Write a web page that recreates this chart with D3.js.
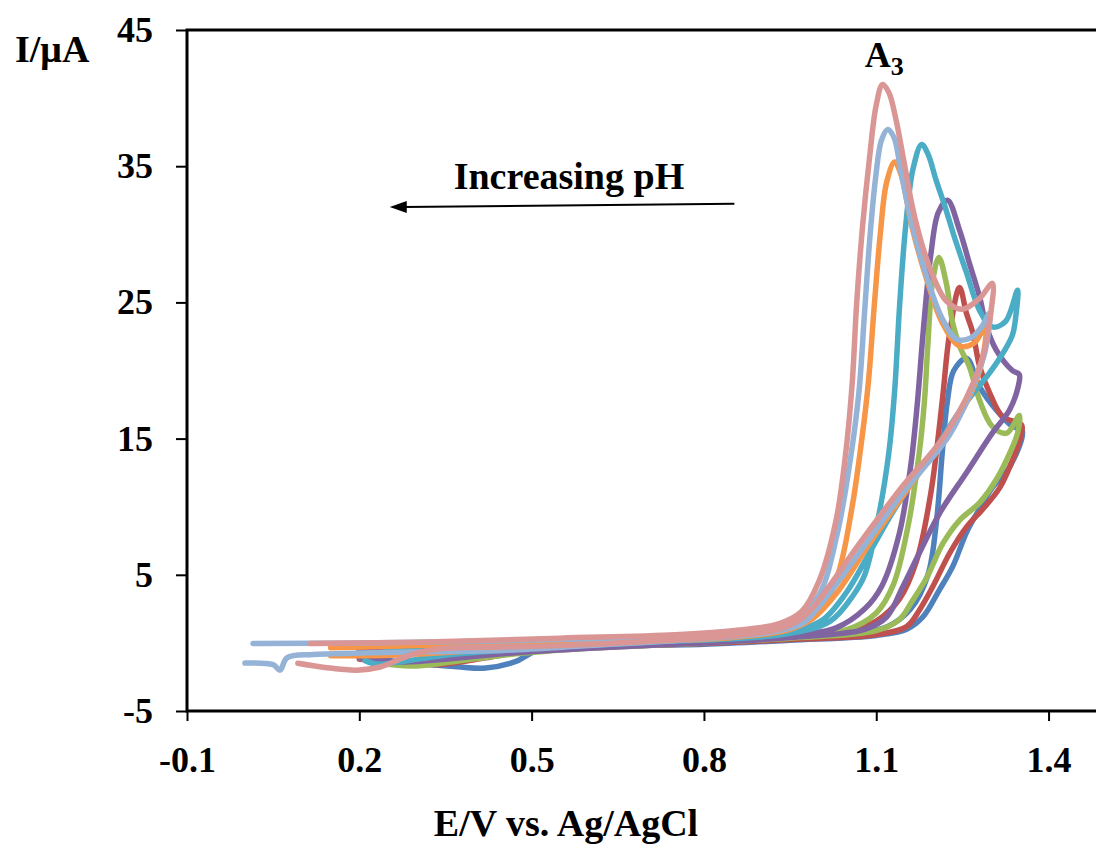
<!DOCTYPE html>
<html><head><meta charset="utf-8">
<script src="https://cdn.jsdelivr.net/npm/d3@7"></script>
<style>
html,body{margin:0;padding:0;background:#fff;}
svg{display:block;}
</style></head><body>
<svg id="chart" width="1096" height="845"></svg>
<script>
// ---- Tick values / labels ----
const xTicks = [-0.1, 0.2, 0.5, 0.8, 1.1, 1.4];
const xTickLabels = ["-0.1", "0.2", "0.5", "0.8", "1.1", "1.4"];
const yTicks = [-5, 5, 15, 25, 35, 45];
const yTickLabels = ["-5", "5", "15", "25", "35", "45"];

// ---- Series (E / V, I / µA), full CV loops ----
const seriesNames = ["pH1", "pH2", "pH3", "pH4", "pH5", "pH6", "pH7", "pH8"];
const seriesColors = ["#4F81BD", "#C0504D", "#9BBB59", "#8064A2", "#4BACC6", "#F79646", "#95B3D7", "#D99694"];

const cvBlue = [
[0.20,-0.6],[0.35,-0.45],[0.50,-0.25],[0.70,-0.05],[0.85,0.10],[0.95,0.30],[1.05,0.60],[1.12,1.2],[1.16,2.5],[1.19,5.0],[1.205,9.0],[1.215,14.0],[1.224,17.8],[1.235,20.0],[1.257,20.9],[1.28,18.8],[1.309,17.1],[1.337,15.9],[1.354,15.6],
[1.332,12.9],[1.302,11.4],[1.275,9.5],[1.257,8.1],[1.233,5.6],[1.21,3.9],[1.181,1.9],[1.153,1.0],[1.10,0.55],[0.95,0.20],[0.80,-0.10],[0.65,-0.20],[0.56,-0.30],[0.51,-0.55],[0.47,-1.4],[0.42,-1.85],[0.37,-1.75],[0.30,-1.5],[0.25,-1.3],[0.20,-1.1]
];
const cvRed = [
[0.20,-0.5],[0.35,-0.4],[0.50,-0.2],[0.70,0.0],[0.85,0.15],[0.95,0.35],[1.05,0.8],[1.10,1.6],[1.14,3.2],[1.17,6.0],[1.195,11.0],[1.215,17.8],[1.227,22.5],[1.245,26.1],[1.257,24.2],[1.268,22.8],[1.28,20.3],[1.297,18.4],[1.32,16.6],[1.353,16.0],
[1.35,14.9],[1.337,13.4],[1.315,11.4],[1.285,9.8],[1.257,8.5],[1.228,6.6],[1.198,4.1],[1.175,2.4],[1.153,1.2],[1.10,0.6],[0.95,0.25],[0.80,-0.05],[0.62,-0.3],[0.50,-0.55],[0.42,-1.1],[0.36,-1.5],[0.33,-1.6],[0.28,-1.45],[0.20,-1.2]
];
const cvGreen = [
[0.20,-0.5],[0.35,-0.35],[0.50,-0.15],[0.70,0.05],[0.85,0.20],[0.95,0.45],[1.05,1.0],[1.10,2.2],[1.13,4.3],[1.155,8.5],[1.175,14.0],[1.184,17.8],[1.19,22.0],[1.198,26.5],[1.209,28.3],[1.222,26.4],[1.233,23.5],[1.247,21.6],[1.262,20.3],[1.28,17.8],[1.302,15.9],[1.327,15.4],[1.349,16.7],
[1.346,15.4],[1.332,13.9],[1.309,12.0],[1.28,10.3],[1.245,9.0],[1.216,7.3],[1.188,4.8],[1.163,3.1],[1.14,1.7],[1.10,0.9],[0.95,0.35],[0.80,0.0],[0.60,-0.4],[0.45,-0.9],[0.36,-1.4],[0.29,-1.7],[0.24,-1.5],[0.20,-1.1]
];
const cvPurple = [
[0.20,-0.6],[0.35,-0.4],[0.50,-0.15],[0.70,0.05],[0.85,0.2],[0.95,0.5],[1.03,1.1],[1.08,2.5],[1.11,4.2],[1.14,8.0],[1.16,13.0],[1.172,17.8],[1.182,23.0],[1.195,28.5],[1.208,31.6],[1.224,32.5],[1.245,30.3],[1.262,27.9],[1.28,25.4],[1.292,23.2],[1.309,21.5],[1.337,20.0],[1.349,19.7],
[1.347,18.8],[1.332,17.1],[1.302,15.4],[1.257,12.5],[1.21,9.5],[1.175,6.6],[1.146,4.1],[1.118,1.9],[1.08,1.0],[0.95,0.4],[0.80,0.0],[0.60,-0.4],[0.45,-0.8],[0.35,-1.2],[0.28,-1.4],[0.23,-1.3],[0.20,-1.1]
];
const cvTeal = [
[0.21,-0.9],[0.30,-0.35],[0.50,-0.05],[0.70,0.1],[0.85,0.3],[0.95,0.7],[1.02,1.6],[1.06,3.5],[1.08,5.0],[1.105,9.5],[1.122,14.0],[1.132,18.5],[1.141,25.0],[1.151,30.5],[1.164,34.8],[1.179,36.6],[1.19,35.9],[1.204,34.0],[1.22,32.0],[1.236,29.8],[1.257,27.2],[1.28,24.4],[1.302,23.2],[1.325,23.6],[1.346,25.9],
[1.343,24.0],[1.337,22.6],[1.318,21.1],[1.295,19.7],[1.27,18.4],[1.245,17.0],[1.193,13.6],[1.153,11.2],[1.123,9.2],[1.088,6.6],[1.048,3.7],[1.007,1.7],[0.96,0.9],[0.85,0.4],[0.70,0.05],[0.50,-0.4],[0.35,-0.9],[0.27,-1.4],[0.23,-1.55],[0.21,-1.3]
];
const cvOrange = [
[0.15,-0.35],[0.30,-0.2],[0.50,0.0],[0.70,0.15],[0.85,0.4],[0.95,1.0],[1.00,2.2],[1.033,5.0],[1.058,10.0],[1.075,15.0],[1.086,19.0],[1.097,25.0],[1.107,30.0],[1.118,33.8],[1.132,35.3],[1.143,34.4],[1.163,30.4],[1.19,26.4],[1.215,23.5],[1.245,21.8],[1.27,22.0],[1.29,23.2],
[1.28,20.0],[1.24,16.3],[1.16,11.6],[1.09,7.4],[1.03,3.6],[0.99,1.8],[0.95,1.0],[0.85,0.4],[0.70,0.1],[0.50,-0.3],[0.35,-0.7],[0.25,-0.9],[0.15,-0.95]
];
const cvLightBlue = [
[0.015,-0.05],[0.20,0.0],[0.40,0.1],[0.60,0.3],[0.80,0.6],[0.90,1.0],[0.96,1.8],[1.00,3.5],[1.032,8.0],[1.055,13.5],[1.07,18.5],[1.08,24.5],[1.089,29.8],[1.099,34.2],[1.109,36.9],[1.12,37.7],[1.131,37.1],[1.143,34.6],[1.163,30.6],[1.19,26.6],[1.215,23.8],[1.24,22.3],[1.265,22.4],[1.285,23.3],[1.297,24.2],
[1.29,21.5],[1.265,18.5],[1.228,15.3],[1.146,11.0],[1.077,7.0],[0.995,2.4],[0.97,1.4],[0.92,0.8],[0.80,0.3],[0.60,-0.2],[0.45,-0.55],[0.32,-0.65],[0.20,-0.75],[0.12,-0.85],[0.074,-1.1],[0.062,-2.0],[0.05,-1.6],[0.001,-1.48]
];
const cvPink = [
[0.114,-0.05],[0.30,0.05],[0.55,0.35],[0.75,0.6],[0.85,0.9],[0.93,1.4],[0.97,2.3],[1.00,4.5],[1.03,9.0],[1.047,14.0],[1.058,19.0],[1.066,25.0],[1.076,30.5],[1.088,35.5],[1.10,39.5],[1.111,41.0],[1.122,40.4],[1.134,38.5],[1.148,35.4],[1.163,32.0],[1.18,29.2],[1.2,26.8],[1.222,25.1],[1.25,24.5],[1.28,25.3],[1.302,26.4],
[1.300,24.4],[1.28,20.3],[1.222,15.4],[1.14,11.2],[1.071,7.3],[0.99,2.6],[0.967,1.7],[0.93,1.0],[0.85,0.5],[0.70,0.1],[0.55,-0.2],[0.45,-0.3],[0.35,-0.4],[0.30,-0.74],[0.276,-1.1],[0.236,-1.77],[0.196,-2.0],[0.14,-1.8],[0.093,-1.5]
];
const seriesData = [cvBlue, cvRed, cvGreen, cvPurple, cvTeal, cvOrange, cvLightBlue, cvPink];

// ---- Annotations ----
const peakLabel = {text: "A", sub: "3", E: 1.08, I: 42.3};
const arrowLabel = {text: "Increasing pH", E: 0.565, I: 33.3};
const arrowFrom = [0.853, 32.25];
const arrowTo = [0.253, 32.0];

// ---- Drawing ----
const svg = d3.select("#chart");
const FONT = "'Liberation Serif','Times New Roman',serif";
const x = d3.scaleLinear().domain([-0.1, 1.5]).range([187, 1106]);
const y = d3.scaleLinear().domain([-5, 45]).range([711, 30]);

const line = d3.line()
  .x(d => x(d[0])).y(d => y(d[1]))
  .curve(d3.curveCatmullRom.alpha(0.5));

svg.append("g").selectAll("path")
  .data(seriesData)
  .join("path")
  .attr("d", line)
  .attr("fill", "none")
  .attr("stroke", (d, i) => seriesColors[i])
  .attr("stroke-width", 5.5)
  .attr("stroke-linecap", "round")
  .attr("stroke-linejoin", "round");

// plot frame
svg.append("rect")
  .attr("x", x(-0.1)).attr("y", y(45))
  .attr("width", x(1.5) - x(-0.1)).attr("height", y(-5) - y(45))
  .attr("fill", "none").attr("stroke", "#000").attr("stroke-width", 3);

// axes
const gy = svg.append("g").attr("transform", `translate(${x(-0.1)},0)`)
  .call(d3.axisLeft(y).tickValues(yTicks).tickSize(11).tickPadding(23)
    .tickFormat((d, i) => yTickLabels[i]));
gy.select(".domain").remove();
gy.attr("font-family", FONT).attr("font-size", 36).attr("font-weight", "bold");
gy.selectAll("line").attr("stroke", "#000").attr("stroke-width", 2);
gy.selectAll("text").attr("fill", "#000");

const gx = svg.append("g").attr("transform", `translate(0,${y(-5)})`)
  .call(d3.axisBottom(x).tickValues(xTicks).tickSize(10).tickPadding(25)
    .tickFormat((d, i) => xTickLabels[i]));
gx.select(".domain").remove();
gx.attr("font-family", FONT).attr("font-size", 36).attr("font-weight", "bold");
gx.selectAll("line").attr("stroke", "#000").attr("stroke-width", 2);
gx.selectAll("text").attr("fill", "#000");

// axis titles
svg.append("text").attr("x", 15).attr("y", 62)
  .attr("font-family", FONT).attr("font-size", 38).attr("font-weight", "bold")
  .text("I/\u03bcA");
svg.append("text").attr("x", 566).attr("y", 836).attr("text-anchor", "middle")
  .attr("font-family", FONT).attr("font-size", 38).attr("font-weight", "bold")
  .text("E/V vs. Ag/AgCl");

// peak label
const pl = svg.append("text").attr("x", x(peakLabel.E)).attr("y", y(peakLabel.I))
  .attr("font-family", FONT).attr("font-size", 36).attr("font-weight", "bold");
pl.append("tspan").text(peakLabel.text);
pl.append("tspan").attr("font-size", 26).attr("dy", 8).text(peakLabel.sub);

// arrow annotation
svg.append("text").attr("x", x(arrowLabel.E)).attr("y", y(arrowLabel.I))
  .attr("text-anchor", "middle")
  .attr("font-family", FONT).attr("font-size", 38).attr("font-weight", "bold")
  .text(arrowLabel.text);
const ax0 = x(arrowFrom[0]), ay0 = y(arrowFrom[1]);
const ax1 = x(arrowTo[0]), ay1 = y(arrowTo[1]);
svg.append("line").attr("x1", ax0).attr("y1", ay0).attr("x2", ax1 + 14).attr("y2", ay1)
  .attr("stroke", "#000").attr("stroke-width", 2);
svg.append("path")
  .attr("d", `M${ax1},${ay1} L${ax1 + 17},${ay1 - 6} L${ax1 + 17},${ay1 + 6} Z`)
  .attr("fill", "#000");
</script>
</body></html>
